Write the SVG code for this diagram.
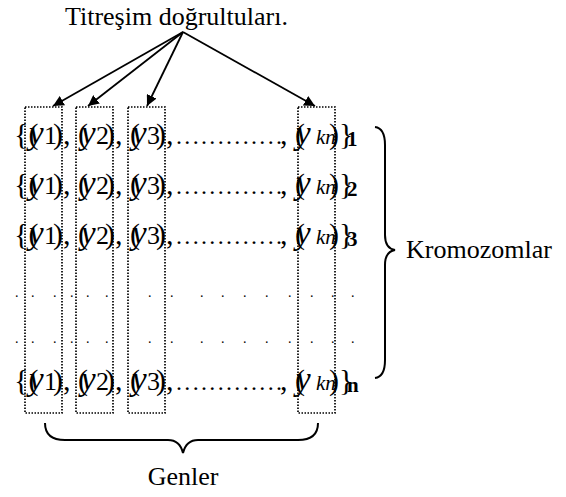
<svg xmlns="http://www.w3.org/2000/svg" width="566" height="497" viewBox="0 0 566 497">
<defs>
<marker id="ah" viewBox="0 0 10 10" refX="10" refY="5" markerWidth="6" markerHeight="6" markerUnits="strokeWidth" orient="auto">
<path d="M0,0 L10,5 L0,10 z" fill="#000"/>
</marker>
</defs>
<g id="title"><text font-family="Times New Roman, Liberation Serif, serif" font-size="26" x="65" y="25">Titreşim doğrultuları.</text></g>
<g id="row1" font-family="Times New Roman, Liberation Serif, serif">
<text font-family="Times New Roman, Liberation Serif, serif" font-size="30" x="14" y="144">{(</text>
<text font-family="Times New Roman, Liberation Serif, serif" font-size="33" font-style="italic" x="29" y="144">y</text>
<text font-family="Times New Roman, Liberation Serif, serif" font-size="26" x="44" y="144">1</text>
<text font-family="Times New Roman, Liberation Serif, serif" font-size="30" x="53" y="144">), (</text>
<text font-family="Times New Roman, Liberation Serif, serif" font-size="33" font-style="italic" x="81" y="144">y</text>
<text font-family="Times New Roman, Liberation Serif, serif" font-size="26" x="96" y="144">2</text>
<text font-family="Times New Roman, Liberation Serif, serif" font-size="30" x="105" y="144">), (</text>
<text font-family="Times New Roman, Liberation Serif, serif" font-size="33" font-style="italic" x="132" y="144">y</text>
<text font-family="Times New Roman, Liberation Serif, serif" font-size="26" x="147" y="144">3</text>
<text font-family="Times New Roman, Liberation Serif, serif" font-size="30" x="156" y="144">),</text>
<text font-family="Times New Roman, Liberation Serif, serif" font-size="24" x="176 184.3 192.7 201 209.3 217.7 226 234.3 242.7 251 259.3 267.7 276" y="144">.............</text>
<text font-family="Times New Roman, Liberation Serif, serif" font-size="30" x="280" y="144">, (</text>
<text font-family="Times New Roman, Liberation Serif, serif" font-size="33" font-style="italic" x="296" y="144">y</text>
<text font-family="Times New Roman, Liberation Serif, serif" font-size="21" font-style="italic" x="316" y="144">kn</text>
<text font-family="Times New Roman, Liberation Serif, serif" font-size="30" x="329" y="144">)}</text>
<text font-family="Times New Roman, Liberation Serif, serif" font-size="21" font-weight="bold" x="347" y="146">1</text>
</g>
<g id="row2">
<text font-family="Times New Roman, Liberation Serif, serif" font-size="30" x="14" y="194">{(</text>
<text font-family="Times New Roman, Liberation Serif, serif" font-size="33" font-style="italic" x="29" y="194">y</text>
<text font-family="Times New Roman, Liberation Serif, serif" font-size="26" x="44" y="194">1</text>
<text font-family="Times New Roman, Liberation Serif, serif" font-size="30" x="53" y="194">), (</text>
<text font-family="Times New Roman, Liberation Serif, serif" font-size="33" font-style="italic" x="81" y="194">y</text>
<text font-family="Times New Roman, Liberation Serif, serif" font-size="26" x="96" y="194">2</text>
<text font-family="Times New Roman, Liberation Serif, serif" font-size="30" x="105" y="194">), (</text>
<text font-family="Times New Roman, Liberation Serif, serif" font-size="33" font-style="italic" x="132" y="194">y</text>
<text font-family="Times New Roman, Liberation Serif, serif" font-size="26" x="147" y="194">3</text>
<text font-family="Times New Roman, Liberation Serif, serif" font-size="30" x="156" y="194">),</text>
<text font-family="Times New Roman, Liberation Serif, serif" font-size="24" x="176 184.3 192.7 201 209.3 217.7 226 234.3 242.7 251 259.3 267.7 276" y="194">.............</text>
<text font-family="Times New Roman, Liberation Serif, serif" font-size="30" x="280" y="194">, (</text>
<text font-family="Times New Roman, Liberation Serif, serif" font-size="33" font-style="italic" x="296" y="194">y</text>
<text font-family="Times New Roman, Liberation Serif, serif" font-size="21" font-style="italic" x="316" y="194">kn</text>
<text font-family="Times New Roman, Liberation Serif, serif" font-size="30" x="329" y="194">)}</text>
<text font-family="Times New Roman, Liberation Serif, serif" font-size="21" font-weight="bold" x="347" y="196">2</text>
</g>
<g id="row3">
<text font-family="Times New Roman, Liberation Serif, serif" font-size="30" x="14" y="244">{(</text>
<text font-family="Times New Roman, Liberation Serif, serif" font-size="33" font-style="italic" x="29" y="244">y</text>
<text font-family="Times New Roman, Liberation Serif, serif" font-size="26" x="44" y="244">1</text>
<text font-family="Times New Roman, Liberation Serif, serif" font-size="30" x="53" y="244">), (</text>
<text font-family="Times New Roman, Liberation Serif, serif" font-size="33" font-style="italic" x="81" y="244">y</text>
<text font-family="Times New Roman, Liberation Serif, serif" font-size="26" x="96" y="244">2</text>
<text font-family="Times New Roman, Liberation Serif, serif" font-size="30" x="105" y="244">), (</text>
<text font-family="Times New Roman, Liberation Serif, serif" font-size="33" font-style="italic" x="132" y="244">y</text>
<text font-family="Times New Roman, Liberation Serif, serif" font-size="26" x="147" y="244">3</text>
<text font-family="Times New Roman, Liberation Serif, serif" font-size="30" x="156" y="244">),</text>
<text font-family="Times New Roman, Liberation Serif, serif" font-size="24" x="176 184.3 192.7 201 209.3 217.7 226 234.3 242.7 251 259.3 267.7 276" y="244">.............</text>
<text font-family="Times New Roman, Liberation Serif, serif" font-size="30" x="280" y="244">, (</text>
<text font-family="Times New Roman, Liberation Serif, serif" font-size="33" font-style="italic" x="296" y="244">y</text>
<text font-family="Times New Roman, Liberation Serif, serif" font-size="21" font-style="italic" x="316" y="244">kn</text>
<text font-family="Times New Roman, Liberation Serif, serif" font-size="30" x="329" y="244">)}</text>
<text font-family="Times New Roman, Liberation Serif, serif" font-size="21" font-weight="bold" x="347" y="246">3</text>
</g>
<g id="dots">
<text font-family="Times New Roman, Liberation Serif, serif" font-size="14" x="15 31 53 70 86 105 148 170 200 221 243 265 288 310 331 351" y="297">................</text>
<text font-family="Times New Roman, Liberation Serif, serif" font-size="14" x="15 31 53 70 86 105 148 170 200 221 243 265 288 310 331 351" y="343">................</text>
</g>
<g id="rown">
<text font-family="Times New Roman, Liberation Serif, serif" font-size="30" x="14" y="390">{(</text>
<text font-family="Times New Roman, Liberation Serif, serif" font-size="33" font-style="italic" x="29" y="390">y</text>
<text font-family="Times New Roman, Liberation Serif, serif" font-size="26" x="44" y="390">1</text>
<text font-family="Times New Roman, Liberation Serif, serif" font-size="30" x="53" y="390">), (</text>
<text font-family="Times New Roman, Liberation Serif, serif" font-size="33" font-style="italic" x="81" y="390">y</text>
<text font-family="Times New Roman, Liberation Serif, serif" font-size="26" x="96" y="390">2</text>
<text font-family="Times New Roman, Liberation Serif, serif" font-size="30" x="105" y="390">), (</text>
<text font-family="Times New Roman, Liberation Serif, serif" font-size="33" font-style="italic" x="132" y="390">y</text>
<text font-family="Times New Roman, Liberation Serif, serif" font-size="26" x="147" y="390">3</text>
<text font-family="Times New Roman, Liberation Serif, serif" font-size="30" x="156" y="390">),</text>
<text font-family="Times New Roman, Liberation Serif, serif" font-size="24" x="176 184.3 192.7 201 209.3 217.7 226 234.3 242.7 251 259.3 267.7 276" y="390">.............</text>
<text font-family="Times New Roman, Liberation Serif, serif" font-size="30" x="280" y="390">, (</text>
<text font-family="Times New Roman, Liberation Serif, serif" font-size="33" font-style="italic" x="296" y="390">y</text>
<text font-family="Times New Roman, Liberation Serif, serif" font-size="21" font-style="italic" x="316" y="390">kn</text>
<text font-family="Times New Roman, Liberation Serif, serif" font-size="30" x="329" y="390">)}</text>
<text font-family="Times New Roman, Liberation Serif, serif" font-size="21" font-weight="bold" x="347" y="392">n</text>
</g>
<g id="col1"><rect x="25" y="107" width="37" height="306" fill="none" stroke="#000" stroke-width="1.7" stroke-dasharray="1.5 1.5"/></g>
<g id="col2"><rect x="76" y="107" width="37" height="306" fill="none" stroke="#000" stroke-width="1.7" stroke-dasharray="1.5 1.5"/></g>
<g id="col3"><rect x="128" y="107" width="37" height="306" fill="none" stroke="#000" stroke-width="1.7" stroke-dasharray="1.5 1.5"/></g>
<g id="col4"><rect x="298" y="107" width="37" height="306" fill="none" stroke="#000" stroke-width="1.7" stroke-dasharray="1.5 1.5"/></g>
<g id="connectors" stroke="#000" stroke-width="1.8" fill="none">
<line x1="183" y1="32" x2="53" y2="106" marker-end="url(#ah)"/>
<line x1="183" y1="32" x2="88" y2="106" marker-end="url(#ah)"/>
<line x1="183" y1="32" x2="147" y2="106" marker-end="url(#ah)"/>
<line x1="183" y1="32" x2="315" y2="106" marker-end="url(#ah)"/>
</g>
<g id="kromozomlar">
<path d="M375,127 C383,128 385,135 385,145 L385,235 C385,245 389,249 395,250 C389,251 385,255 385,265 L385,360 C385,370 383,377 375,378" fill="none" stroke="#000" stroke-width="2"/>
<text font-family="Times New Roman, Liberation Serif, serif" font-size="26" x="406" y="258">Kromozomlar</text>
</g>
<g id="genler">
<path d="M45,423 C45,435 52,440 65,440 L168,440 C176,440 181,445 183,453 C185,445 190,440 198,440 L298,440 C311,440 318,435 318,423" fill="none" stroke="#000" stroke-width="2"/>
<text font-family="Times New Roman, Liberation Serif, serif" font-size="26" x="183" y="485" text-anchor="middle">Genler</text>
</g>
</svg>
